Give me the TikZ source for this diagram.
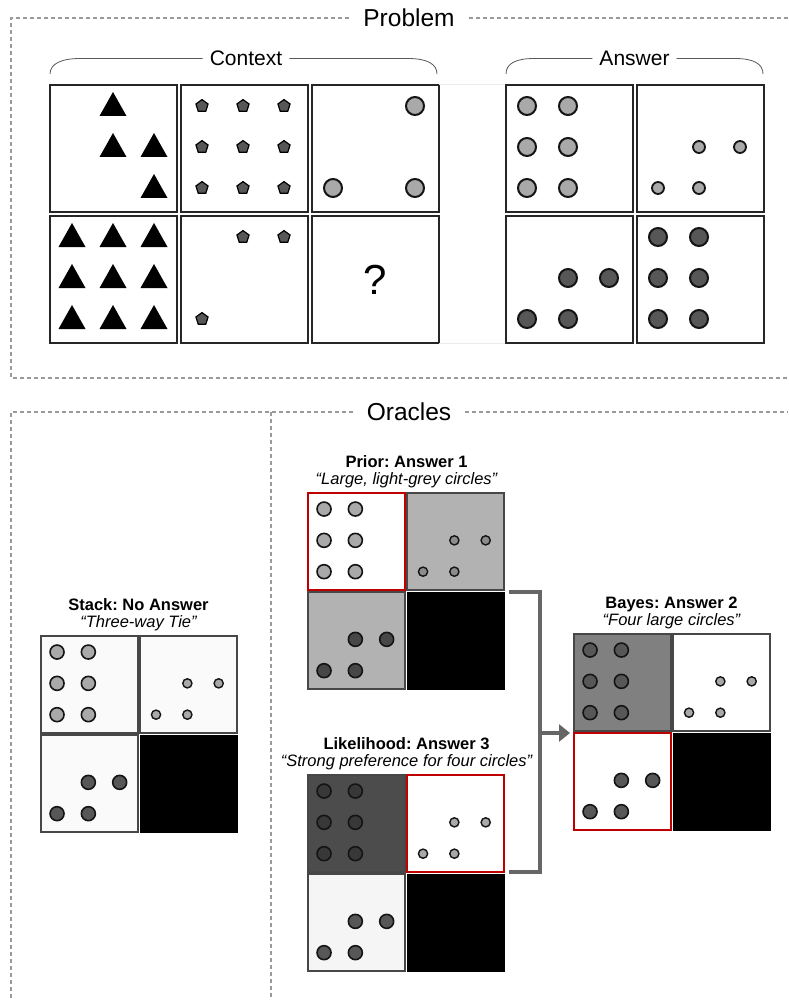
\documentclass[tikz,border=0pt]{standalone}
\usepackage{fontspec}
\setmainfont{Liberation Sans}
\usetikzlibrary{arrows.meta,calc}
\frenchspacing
\definecolor{lightc}{HTML}{A9A9A9}
\definecolor{darkc}{HTML}{575757}
\definecolor{redb}{HTML}{C00000}
\definecolor{frameg}{HTML}{9A9A9A}
\definecolor{conng}{HTML}{666666}
\def\sixl{0/0,1/0,0/1,1/1,0/2,1/2}
\def\fourl{1/1,2/1,0/2,1/2}
\def\allnine{0/0,1/0,2/0,0/1,1/1,2/1,0/2,1/2,2/2}
\newcommand{\mkcell}[5]{\node[#5, minimum size=#4pt] (#1) at ({#2+#4/2},{#3+#4/2}) {};}
\newcommand{\mkcircs}[7]{%
  \foreach \cc/\rr in #4 {\draw[draw=black!92, line width=#7pt, fill=#6] ({#1+#3*(21+41*\cc)/127},{#2+#3*(21+41*\rr)/127}) circle[radius=#5pt];}}
\newcommand{\mktris}[3]{%
  \foreach \cc/\rr in #3 {\fill[black] ({#1+22+41*\cc-13.5},{#2+19+41*\rr+12}) -- ({#1+22+41*\cc},{#2+19+41*\rr-12}) -- ({#1+22+41*\cc+13.5},{#2+19+41*\rr+12}) -- cycle;}}
\newcommand{\mkpents}[3]{%
  \foreach \cc/\rr in #3 {\draw[draw=black, line width=1.2pt, fill=darkc] ({#1+21+41*\cc},{#2+21+41*\rr}) +(-90:6.4) -- +(-18:6.4) -- +(54:6.4) -- +(126:6.4) -- +(198:6.4) -- cycle;}}
\begin{document}
\begin{tikzpicture}[x=1pt,y=-1pt,
  frame/.style={draw=frameg, line width=1.1pt, dash pattern=on 4pt off 3pt},
  bigcell/.style={draw=black!85, line width=2pt, inner sep=0pt, outer sep=0pt, fill=white},
  ocell/.style={draw=black!72, line width=1.5pt, inner sep=0pt, outer sep=0pt},
  redcell/.style={draw=redb, line width=2.3pt, inner sep=0pt, outer sep=0pt, fill=white},
  blackcell/.style={draw=black, fill=black, line width=1pt, inner sep=0pt, outer sep=0pt},
  bigtitle/.style={font=\fontsize{24.5}{28}\selectfont, inner xsep=14pt, inner ysep=0pt},
  midtitle/.style={font=\fontsize{21}{25}\selectfont, inner xsep=7pt, inner ysep=0pt},
  btitle/.style={font=\fontsize{16.5}{19}\selectfont\bfseries, anchor=base, inner sep=0pt},
  itsub/.style={font=\fontsize{16.5}{19}\selectfont\itshape, anchor=base, inner sep=0pt},
  brace/.style={draw=black!65, line width=0.8pt},
  conn/.style={draw=conng, line width=3.5pt}]
\useasboundingbox[fill=white] (0,0) rectangle (788,1000);

% ---------- Problem frame ----------
\node[bigtitle] (prob) at (409,18) {Problem};
\draw[frame] (prob.west) -- (11,18) -- (11,378) -- (788,378);
\draw[frame] (prob.east) -- (788,18);

% Context / Answer braces
\node[midtitle] (ctx) at (246,58.5) {Context};
\draw[brace] (ctx.west) -- (80,58.5) .. controls (61,58.5) and (50,64) .. (50,74);
\draw[brace] (ctx.east) -- (408,58.5) .. controls (427,58.5) and (437,64) .. (437,74);
\node[midtitle] (ans) at (634.5,58.5) {Answer};
\draw[brace] (ans.west) -- (534,58.5) .. controls (515,58.5) and (506,64) .. (506,74);
\draw[brace] (ans.east) -- (735,58.5) .. controls (754,58.5) and (763,64) .. (763,74);

% Context cells
\mkcell{C1}{50}{85}{127}{bigcell}
\mkcell{C2}{181}{85}{127}{bigcell}
\mkcell{C3}{312}{85}{127}{bigcell}
\mkcell{C4}{50}{216}{127}{bigcell}
\mkcell{C5}{181}{216}{127}{bigcell}
\mkcell{C6}{312}{216}{127}{bigcell}
\draw[draw=black!8, line width=1pt] (C3.north east) -- (506,85);
\draw[draw=black!8, line width=1pt] (C6.south east) -- (506,343);
\mktris{50}{85}{{1/0,1/1,2/1,2/2}}
\mktris{50}{216}{\allnine}
\mkpents{181}{85}{\allnine}
\mkpents{181}{216}{{1/0,2/0,0/2}}
\mkcircs{312}{85}{127}{{2/0,0/2,2/2}}{9}{lightc}{2}
\node[font=\fontsize{42}{46}\selectfont, inner sep=0pt] (qm) at (C6.center) {?};

% Answer cells
\mkcell{A1}{506}{85}{127}{bigcell}
\mkcell{A2}{637}{85}{127}{bigcell}
\mkcell{A3}{506}{216}{127}{bigcell}
\mkcell{A4}{637}{216}{127}{bigcell}
\mkcircs{506}{85}{127}{\sixl}{9}{lightc}{2}
\mkcircs{637}{85}{127}{\fourl}{6}{lightc}{1.8}
\mkcircs{506}{216}{127}{\fourl}{9}{darkc}{2}
\mkcircs{637}{216}{127}{\sixl}{9}{darkc}{2}

% ---------- Oracles frame ----------
\node[bigtitle] (orc) at (409,412) {Oracles};
\draw[frame] (orc.west) -- (11,412) -- (11,1000);
\draw[frame] (orc.east) -- (788,412);
\draw[frame] (271,412) -- (271,1000);

% Stack
\node[btitle] (stt) at (138.5,610) {Stack: No Answer};
\node[itsub] (sts) at (138.5,627) {“Three-way Tie”};
\mkcell{S1}{41}{636}{97}{ocell, fill=black!2}
\mkcell{S2}{140}{636}{97}{ocell, fill=black!2}
\mkcell{S3}{41}{735}{97}{ocell, fill=black!2}
\mkcell{S4}{140}{735}{97}{blackcell}
\mkcircs{41}{636}{97}{\sixl}{7}{lightc}{1.6}
\mkcircs{140}{636}{97}{\fourl}{4.6}{lightc}{1.4}
\mkcircs{41}{735}{97}{\fourl}{7}{darkc}{1.6}

% Prior
\node[btitle] (prt) at (406.5,467) {Prior: Answer 1};
\node[itsub] (prs) at (406.5,484) {“Large, light-grey circles”};
\mkcell{P1}{308}{493}{97}{redcell}
\mkcell{P2}{407}{493}{97}{ocell, fill=black!30}
\mkcell{P3}{308}{592}{97}{ocell, fill=black!30}
\mkcell{P4}{407}{592}{97}{blackcell}
\mkcircs{308}{493}{97}{\sixl}{7}{lightc}{1.6}
\mkcircs{407}{493}{97}{\fourl}{4.6}{black!45}{1.4}
\mkcircs{308}{592}{97}{\fourl}{7}{black!72}{1.6}

% Likelihood
\node[btitle] (lkt) at (406.5,749) {Likelihood: Answer 3};
\node[itsub] (lks) at (406.5,766) {“Strong preference for four circles”};
\mkcell{L1}{308}{775}{97}{ocell, fill=black!70}
\mkcell{L2}{407}{775}{97}{redcell}
\mkcell{L3}{308}{874}{97}{ocell, fill=black!4}
\mkcell{L4}{407}{874}{97}{blackcell}
\mkcircs{308}{775}{97}{\sixl}{7}{black!78}{1.6}
\mkcircs{407}{775}{97}{\fourl}{4.6}{lightc}{1.4}
\mkcircs{308}{874}{97}{\fourl}{7}{darkc}{1.6}

% Bayes
\node[btitle] (byt) at (671.5,608) {Bayes: Answer 2};
\node[itsub] (bys) at (671.5,625) {“Four large circles”};
\mkcell{B1}{574}{634}{97}{ocell, fill=black!50}
\mkcell{B2}{673}{634}{97}{ocell, fill=white}
\mkcell{B3}{574}{733}{97}{redcell}
\mkcell{B4}{673}{733}{97}{blackcell}
\mkcircs{574}{634}{97}{\sixl}{7}{darkc}{1.6}
\mkcircs{673}{634}{97}{\fourl}{4.6}{lightc}{1.4}
\mkcircs{574}{733}{97}{\fourl}{7}{darkc}{1.6}

% Connector
\coordinate (bt) at ($(P4.north east)+(5,0)$);
\coordinate (bb) at ($(L2.south east)+(5,0)$);
\coordinate (bm) at (540,733);
\draw[conn] (bt) -- (540,592) |- (bb);
\draw[conn, -{Triangle[length=11pt,width=17pt]}] (bm) -- ($(B3.north west)+(-4,0)$);
\end{tikzpicture}
\end{document}
